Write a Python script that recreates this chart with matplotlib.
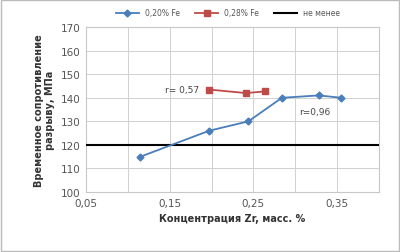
import matplotlib.pyplot as plt
import numpy as np

# data
zr_020 = [0.115, 0.197, 0.244, 0.284, 0.328, 0.355]
uts_020 = [115, 126, 130, 140, 141, 140]
zr_028 = [0.197, 0.241, 0.264]
uts_028 = [143.5, 142, 142.7]
min_level = 120
xticks = [0.05, 0.15, 0.25, 0.35]
xtick_labels = ["0,05", "0,15", "0,25", "0,35"]
yticks = [100, 110, 120, 130, 140, 150, 160, 170]

plt.rcParams['font.family'] = ['DejaVu Sans']
fig = plt.figure(figsize=(4, 2.53), dpi=100)
ax = fig.add_axes([0.215, 0.237, 0.7325, 0.652])

ax.axhline(min_level, color='black', lw=1.5, label='не менее', zorder=3)
ax.plot(zr_020, uts_020, color='#4a7ebb', marker='D', ms=3.5, lw=1.3, label='0,20% Fe', zorder=4)
ax.plot(zr_028, uts_028, color='#be4b48', marker='s', ms=4, lw=1.3, label='0,28% Fe', zorder=4)

ax.set_xlim(0.05, 0.40)
ax.set_ylim(100, 170)
ax.set_xticks(xticks)
ax.set_xticklabels(xtick_labels)
ax.set_xticks(np.arange(0.10, 0.401, 0.1), minor=True)
ax.set_yticks(yticks)
ax.grid(True, which='both', color='#d0d0d0', lw=0.7)
ax.set_axisbelow(True)
ax.tick_params(which='both', length=0, labelsize=7.5, colors='#555555', pad=4)
for s in ax.spines.values():
    s.set_color('#c8c8c8')
    s.set_linewidth(0.8)

ax.text(0.185, 143.5, 'r= 0,57', fontsize=6.5, color='#444444', ha='right', va='center')
ax.text(0.304, 134, 'r=0,96', fontsize=6.5, color='#444444', ha='left', va='center')

ax.set_xlabel('Концентрация Zr, масс. %', fontsize=7, fontweight='bold', color='#333333', labelpad=4)
ax.set_ylabel('Временное сопротивление\nразрыву, МПа', fontsize=7, fontweight='bold', color='#333333', labelpad=4)

h, l = ax.get_legend_handles_labels()
fig.legend([h[1], h[2], h[0]], [l[1], l[2], l[0]], loc='upper center', bbox_to_anchor=(0.57, 0.99),
           ncol=3, frameon=False, fontsize=5.5, labelcolor='#555555', handlelength=3, columnspacing=2)

fig.patches.append(plt.Rectangle((0.003, 0.004), 0.994, 0.992, transform=fig.transFigure,
                                 fill=False, edgecolor='#bbbbbb', lw=1))
fig.savefig('out.png', dpi=100)
